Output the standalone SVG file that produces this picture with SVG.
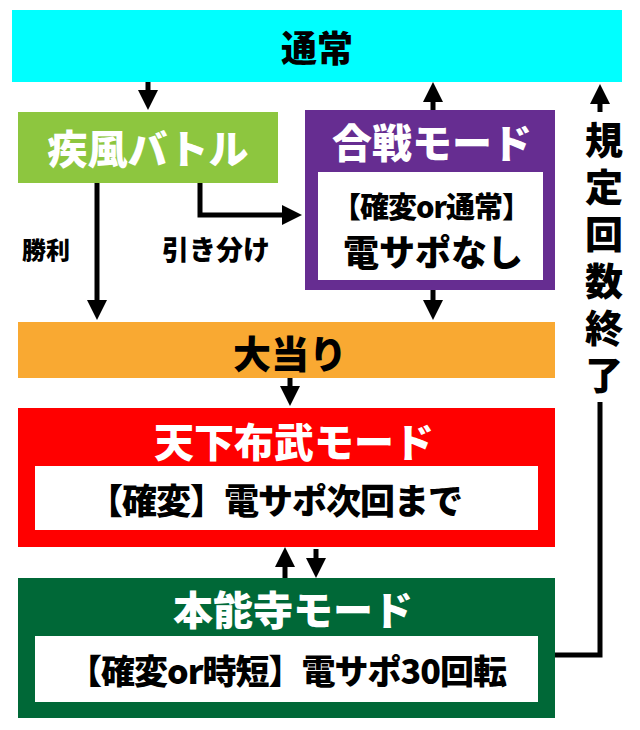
<svg xmlns="http://www.w3.org/2000/svg" width="640" height="730" viewBox="0 0 640 730">
<style>
text{font-family:"Noto Sans CJK JP",sans-serif;font-weight:900;text-anchor:middle;dominant-baseline:central}
.w{fill:#fff}.k{fill:#000}
.ln{stroke:#000;stroke-width:5;fill:none}
</style>
<defs><marker id="a" markerWidth="4" markerHeight="4" refX="2" refY="2" orient="auto" markerUnits="strokeWidth"><path d="M0,0L4,2L0,4z" fill="#000"/></marker></defs>
<rect width="640" height="730" fill="#fff"/>
<g id="connectors">
<path class="ln" d="M148,82V100" marker-end="url(#a)"/>
<path class="ln" d="M433,110V92" marker-end="url(#a)"/>
<path class="ln" d="M200,183V215H292" marker-end="url(#a)"/>
<path class="ln" d="M97,183V310" marker-end="url(#a)"/>
<path class="ln" d="M433,290V310" marker-end="url(#a)"/>
<path class="ln" d="M290,378V396" marker-end="url(#a)"/>
<path class="ln" d="M285,578V557" marker-end="url(#a)"/>
<path class="ln" d="M316,549V568" marker-end="url(#a)"/>
<path class="ln" d="M555,655H600V94" marker-end="url(#a)"/>
<text x="46" y="248" font-size="24" class="k">勝利</text>
<text x="216" y="248" font-size="27" class="k">引き分け</text>
<rect x="580" y="112" width="44" height="290" fill="#fff"/>
<text font-size="38" class="k"><tspan x="604" y="137">規</tspan><tspan x="604" y="184">定</tspan><tspan x="604" y="231">回</tspan><tspan x="604" y="278">数</tspan><tspan x="604" y="325">終</tspan><tspan x="604" y="372">了</tspan></text>
</g>
<g id="tsujo"><rect x="12" y="10" width="610" height="72" fill="#00FFFF"/><text x="317" y="46" font-size="36" class="k">通常</text></g>
<g id="battle"><rect x="18" y="112" width="260" height="71" fill="#8DC63F"/><text x="148" y="147" font-size="40" class="w">疾風バトル</text></g>
<g id="kassen"><rect x="305" y="110" width="250" height="180" fill="#662D91"/><text x="432" y="141" font-size="40" class="w">合戦モード</text><rect x="318" y="172" width="225" height="108" fill="#fff"/><text x="431" y="205" font-size="29" class="k" letter-spacing="-1">【確変or通常】</text><text x="433" y="250" font-size="36" class="k">電サポなし</text></g>
<g id="oatari"><rect x="18" y="322" width="537" height="56" fill="#F9A932"/><text x="290" y="351" font-size="38" class="k">大当り</text></g>
<g id="tenka"><rect x="18" y="408" width="537" height="139" fill="#FF0000"/><text x="294" y="440" font-size="40" class="w">天下布武モード</text><rect x="35" y="466" width="503" height="64" fill="#fff"/><text x="275" y="498" font-size="35" class="k" letter-spacing="-1">【確変】電サポ次回まで</text></g>
<g id="honnoji"><rect x="18" y="578" width="537" height="140" fill="#006837"/><text x="293" y="608" font-size="40" class="w">本能寺モード</text><rect x="35" y="636" width="503" height="66" fill="#fff"/><text x="287" y="669" font-size="34" class="k" letter-spacing="-1">【確変or時短】電サポ30回転</text></g>
</svg>
